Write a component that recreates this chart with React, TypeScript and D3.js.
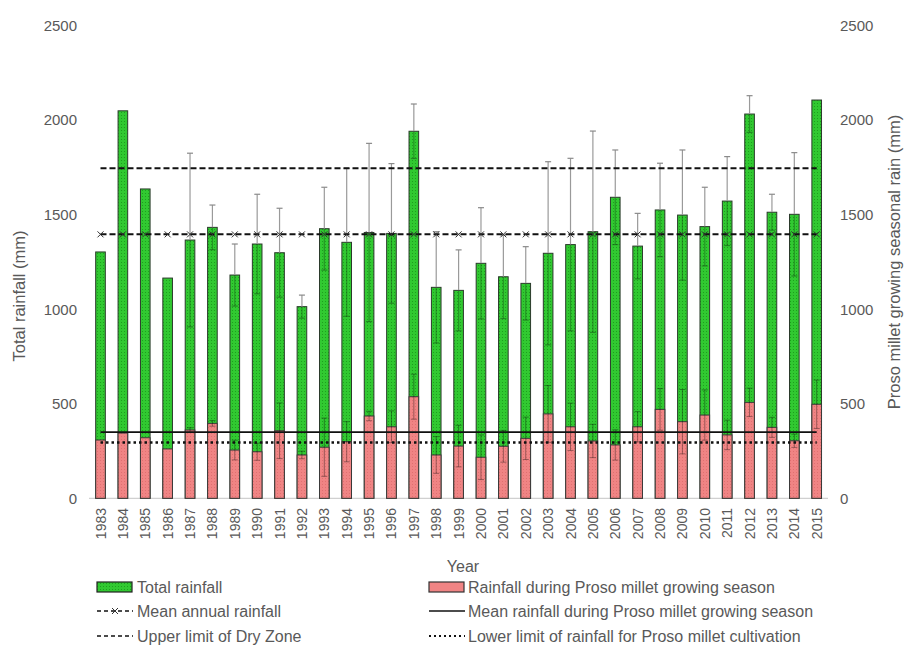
import React from "react";
import * as d3 from "d3";

const years = ["1983","1984","1985","1986","1987","1988","1989","1990","1991","1992","1993","1994","1995","1996","1997","1998","1999","2000","2001","2002","2003","2004","2005","2006","2007","2008","2009","2010","2011","2012","2013","2014","2015"];
const totalRain = [1302,2048,1635,1164,1365,1432,1180,1344,1298,1013,1425,1353,1405,1400,1940,1115,1099,1242,1171,1136,1295,1341,1409,1591,1333,1524,1497,1436,1571,2031,1512,1501,2105];
const totalErr = [0,0,0,0,459,118,164,263,235,61,219,391,471,369,144,294,214,294,221,194,484,456,532,250,173,247,344,208,235,97,95,326,0];
const seasonRain = [308,345,320,261,361,396,255,246,357,229,270,299,435,378,537,229,276,217,275,317,446,378,303,282,378,470,405,440,335,507,375,304,497];
const seasonErr = [0,0,0,0,12,15,52,45,147,20,154,106,25,84,119,97,110,118,84,112,150,125,88,80,80,110,170,133,78,75,53,35,128];
const yTicks = [0,500,1000,1500,2000,2500];
const meanAnnual = 1395;
const upperDryZone = 1745;
const meanSeason = 350;
const lowerLimit = 295;

const FONT = "'Liberation Sans', Arial, sans-serif";
const GRAY = "#595959";

export default function App() {
  const W = 905, H = 648;
  const x = d3.scalePoint<string>().domain(years).range([100.5, 816.7]);
  const step = x.step();
  const bw = step * 0.43;
  const y = d3.scaleLinear().domain([0, 2500]).range([498.3, 25.3]);
  const x0 = x(years[0])!;
  const x1 = x(years[years.length - 1])!;

  const line = (v: number) => d3.line<number>()([[x0, y(v)], [x1, y(v)]] as any);

  return (
    <svg width={W} height={H} style={{ position: "absolute", left: 0, top: 0, background: "#fff" }} fontFamily={FONT}>
      <defs>
        <pattern id="gdots" width="3" height="3" patternUnits="userSpaceOnUse">
          <rect width="3" height="3" fill="#31c931" />
          <rect x="1" y="1" width="1" height="1" fill="#1e9e1e" />
        </pattern>
        <pattern id="pdots" width="3" height="3" patternUnits="userSpaceOnUse">
          <rect width="3" height="3" fill="#f08484" />
          <rect x="1" y="1" width="1" height="1" fill="#e07070" />
        </pattern>
      </defs>
      <rect width={W} height={H} fill="#fff" />

      {/* left axis labels */}
      {yTicks.map((t) => (
        <text key={"l" + t} x={77} y={y(t)} textAnchor="end" dominantBaseline="central" fontSize={15} fill={GRAY}>{t}</text>
      ))}
      {yTicks.map((t) => (
        <text key={"r" + t} x={840} y={y(t)} textAnchor="start" dominantBaseline="central" fontSize={15} fill={GRAY}>{t}</text>
      ))}
      <text transform="translate(19,296) rotate(-90)" textAnchor="middle" dominantBaseline="central" fontSize={16.5} fill={GRAY}>Total rainfall (mm)</text>
      <text transform="translate(894,262) rotate(-90)" textAnchor="middle" dominantBaseline="central" fontSize={16.5} fill={GRAY}>Proso millet growing seasonal rain (mm)</text>

      {/* baseline */}
      <line x1={89} x2={828} y1={y(0)} y2={y(0)} stroke="#d0d0d0" strokeWidth={1.2} />

      {/* total bars */}
      {years.map((yr, i) => (
        <rect key={"t" + yr} x={x(yr)! - bw / 2} y={y(totalRain[i])} width={bw} height={y(0) - y(totalRain[i])}
          fill="url(#gdots)" stroke="#2b3a2b" strokeWidth={1} />
      ))}
      {/* season bars */}
      {years.map((yr, i) => (
        <rect key={"s" + yr} x={x(yr)! - bw / 2} y={y(seasonRain[i])} width={bw} height={y(0) - y(seasonRain[i])}
          fill="url(#pdots)" stroke="#3a3a3a" strokeWidth={1} />
      ))}

      {/* total error bars */}
      {years.map((yr, i) => {
        const e = totalErr[i];
        if (!e) return null;
        const cx = x(yr)!;
        const top = y(totalRain[i] + e), bot = y(totalRain[i] - e), mid = y(totalRain[i]);
        return (
          <g key={"te" + yr}>
            <line x1={cx} x2={cx} y1={top} y2={mid} stroke="#9a9a9a" strokeWidth={1.2} />
            <line x1={cx - 3} x2={cx + 3} y1={top} y2={top} stroke="#8a8a8a" strokeWidth={1.2} />
            <line x1={cx} x2={cx} y1={mid} y2={bot} stroke="#000" strokeOpacity={0.25} strokeWidth={1.2} />
            <line x1={cx - 3} x2={cx + 3} y1={bot} y2={bot} stroke="#000" strokeOpacity={0.3} strokeWidth={1.2} />
          </g>
        );
      })}
      {/* season error bars */}
      {years.map((yr, i) => {
        const e = seasonErr[i];
        if (!e) return null;
        const cx = x(yr)!;
        const top = y(seasonRain[i] + e), bot = y(seasonRain[i] - e);
        return (
          <g key={"se" + yr} stroke="#000" strokeOpacity={0.35} strokeWidth={1}>
            <line x1={cx} x2={cx} y1={top} y2={bot} />
            <line x1={cx - 3} x2={cx + 3} y1={top} y2={top} />
            <line x1={cx - 3} x2={cx + 3} y1={bot} y2={bot} />
          </g>
        );
      })}

      {/* reference lines */}
      <path d={line(upperDryZone)!} stroke="#111" strokeWidth={2} strokeDasharray="6,3" fill="none" />
      <path d={line(meanAnnual)!} stroke="#111" strokeWidth={2} strokeDasharray="6,3" fill="none" />
      {years.map((yr) => {
        const cx = x(yr)!, cy = y(meanAnnual);
        return (
          <path key={"m" + yr} d={`M${cx - 3},${cy - 3}L${cx + 3},${cy + 3}M${cx - 3},${cy + 3}L${cx + 3},${cy - 3}`} stroke="#333" strokeWidth={1} />
        );
      })}
      <path d={line(meanSeason)!} stroke="#111" strokeWidth={1.6} fill="none" />
      <path d={line(lowerLimit)!} stroke="#111" strokeWidth={2.5} strokeDasharray="2.5,3" fill="none" />

      {/* year labels */}
      {years.map((yr) => (
        <text key={"y" + yr} transform={`translate(${x(yr)},508) rotate(-90)`} textAnchor="end" dominantBaseline="central" fontSize={14} fill={GRAY}>{yr}</text>
      ))}
      <text x={463} y={566} textAnchor="middle" dominantBaseline="central" fontSize={16} fill={GRAY}>Year</text>

      {/* legend */}
      <g fontSize={16} fill={GRAY}>
        <rect x={97} y={582} width={35} height={10} fill="url(#gdots)" stroke="#222" strokeWidth={1.2} />
        <text x={137} y={587} dominantBaseline="central">Total rainfall</text>
        <rect x={429} y={582} width={35} height={10} fill="#f08484" stroke="#333" strokeWidth={1.2} />
        <text x={468} y={587} dominantBaseline="central">Rainfall during Proso millet growing season</text>

        <line x1={97} x2={133} y1={611} y2={611} stroke="#111" strokeWidth={1.6} strokeDasharray="4,3" />
        <path d="M112,608L118,614M112,614L118,608" stroke="#333" strokeWidth={1} />
        <text x={137} y={611} dominantBaseline="central">Mean annual rainfall</text>
        <line x1={429} x2={465} y1={611} y2={611} stroke="#111" strokeWidth={1.6} />
        <text x={468} y={611} dominantBaseline="central">Mean rainfall during Proso millet growing season</text>

        <line x1={97} x2={133} y1={636} y2={636} stroke="#111" strokeWidth={1.6} strokeDasharray="4,3" />
        <text x={137} y={636} dominantBaseline="central">Upper limit of Dry Zone</text>
        <line x1={429} x2={465} y1={636} y2={636} stroke="#111" strokeWidth={2} strokeDasharray="2,3" />
        <text x={468} y={636} dominantBaseline="central">Lower limit of rainfall for Proso millet cultivation</text>
      </g>
    </svg>
  );
}
